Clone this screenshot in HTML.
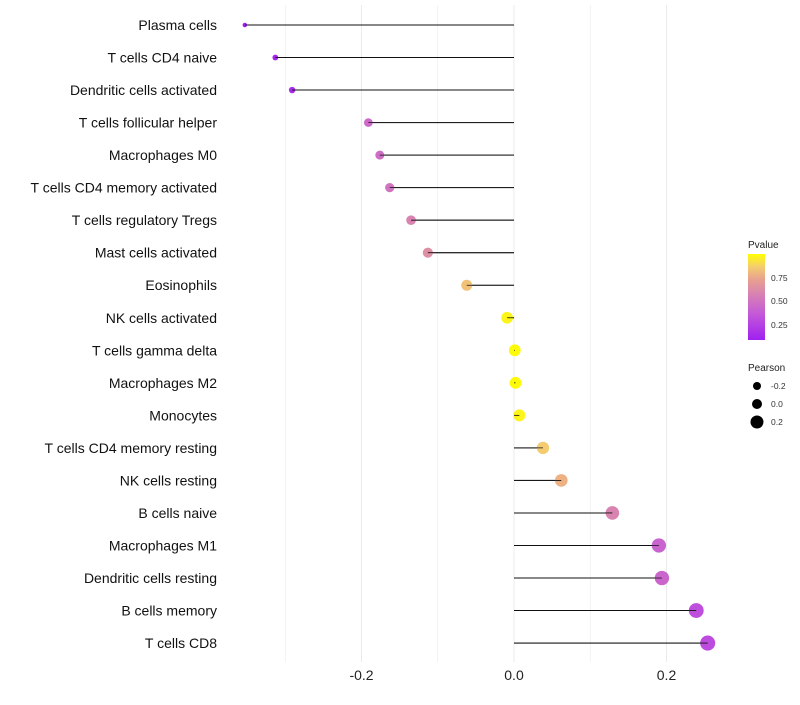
<!DOCTYPE html>
<html><head><meta charset="utf-8"><style>
body{margin:0;background:#fff;font-family:"Liberation Sans",sans-serif}
svg text{font-family:"Liberation Sans",sans-serif}
</style></head><body>
<svg id="chart" width="800" height="700">
<defs><linearGradient id="pg" x1="0" y1="1" x2="0" y2="0">
<stop offset="0" stop-color="#a020f0"/><stop offset="0.3" stop-color="#c458d8"/><stop offset="0.5" stop-color="#d47cb8"/><stop offset="0.7" stop-color="#e8a090"/><stop offset="0.85" stop-color="#f4cc70"/><stop offset="1" stop-color="#ffff00"/></linearGradient></defs>
<g id="grid"></g><g id="marks"></g><g id="labels"></g><g id="xaxis"></g>
<g>
<text x="748" y="248" font-size="10" fill="#222">Pvalue</text>
<rect x="748" y="254" width="17" height="86" fill="url(#pg)"/>
<text x="771" y="281" font-size="8.5" fill="#333">0.75</text>
<text x="771" y="304" font-size="8.5" fill="#333">0.50</text>
<text x="771" y="328" font-size="8.5" fill="#333">0.25</text>
<text x="748" y="371" font-size="10" fill="#222">Pearson</text>
<circle cx="757" cy="386" r="4" fill="#000"/><text x="771" y="389" font-size="8.5" fill="#333">-0.2</text>
<circle cx="757" cy="404" r="5" fill="#000"/><text x="771" y="407" font-size="8.5" fill="#333">0.0</text>
<circle cx="757" cy="422" r="6.5" fill="#000"/><text x="771" y="425" font-size="8.5" fill="#333">0.2</text>
</g>
</svg>
<script>
const categories=["Plasma cells","T cells CD4 naive","Dendritic cells activated","T cells follicular helper","Macrophages M0","T cells CD4 memory activated","T cells regulatory  Tregs ","Mast cells activated","Eosinophils","NK cells activated","T cells gamma delta","Macrophages M2","Monocytes","T cells CD4 memory resting","NK cells resting","B cells naive","Macrophages M1","Dendritic cells resting","B cells memory","T cells CD8"];
const pearson=[-0.353,-0.313,-0.291,-0.191,-0.176,-0.163,-0.135,-0.113,-0.062,-0.009,0.001,0.002,0.007,0.038,0.062,0.129,0.19,0.194,0.239,0.254];
const pvalue=[0.1,0.12,0.14,0.45,0.47,0.5,0.58,0.64,0.83,0.97,0.99,0.99,0.97,0.86,0.78,0.58,0.42,0.43,0.32,0.3];
const xTicks=[-0.2,0.0,0.2];
const xGrid=[-0.3,-0.1,0.1];
const NS="http://www.w3.org/2000/svg";
const x=v=>514+v*762.5;
const y=i=>25+i*32.53;
const rad=v=>Math.sqrt(Math.max(2.5,35+85*v));
const stops=[[0,[160,32,240]],[0.3,[196,88,216]],[0.5,[212,124,184]],[0.7,[232,160,144]],[0.85,[244,204,112]],[1,[255,255,0]]];
function col(p){const t=Math.max(0,Math.min(1,(p-0.09)/0.91));
for(let k=1;k<stops.length;k++){if(t<=stops[k][0]){const a=stops[k-1],b=stops[k];const u=(t-a[0])/(b[0]-a[0]);
return `rgb(${a[1].map((c,j)=>Math.round(c+(b[1][j]-c)*u))})`;}}return 'rgb(255,255,0)';}
function mk(tag,attrs,parent){const e=document.createElementNS(NS,tag);for(const k in attrs)e.setAttribute(k,attrs[k]);document.getElementById(parent).appendChild(e);return e;}
xTicks.concat(xGrid).forEach(v=>{const l=mk('line',{x1:x(v),x2:x(v),y1:5,y2:662,stroke:'#ebebeb','stroke-width':xTicks.includes(v)?1:0.6},'grid');

});
xTicks.forEach(v=>{const t=mk('text',{x:x(v),y:680,'font-size':14,'text-anchor':'middle',fill:'#222'},'xaxis');t.textContent=v.toFixed(1);

});
categories.forEach((c,i)=>{
const t=mk('text',{x:217,y:y(i)+5,'font-size':14,'text-anchor':'end',fill:'#111'},'labels');t.textContent=c;


const l=mk('line',{x1:x(0),x2:x(pearson[i]),y1:y(i),y2:y(i),stroke:'#111','stroke-width':1},'marks');


const d=mk('circle',{cx:x(pearson[i]),cy:y(i),r:rad(pearson[i]),fill:col(pvalue[i])},'marks');


const l2=mk('line',{x1:x(0),x2:x(pearson[i]),y1:y(i),y2:y(i),stroke:'#111','stroke-width':0.8},'marks');


});
</script>
</body></html>
